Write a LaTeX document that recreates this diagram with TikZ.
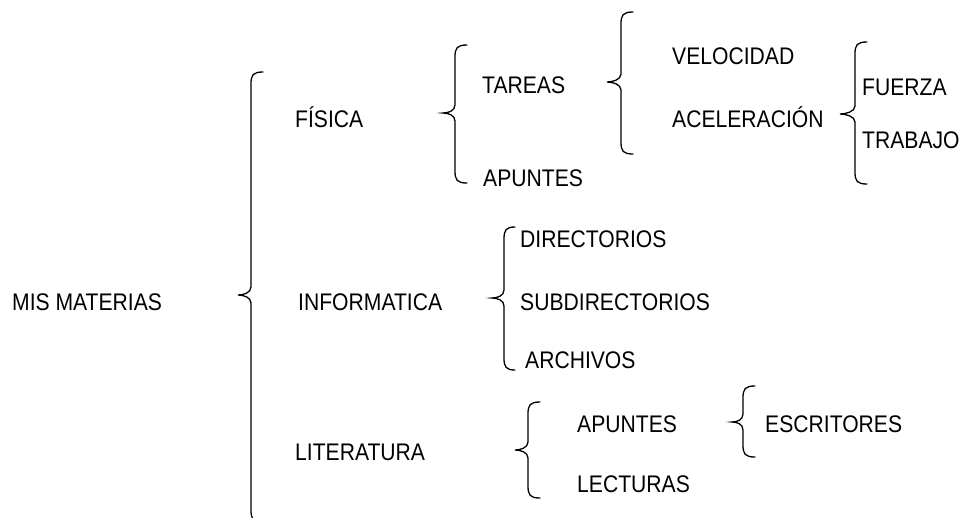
\documentclass[tikz,border=0pt]{standalone}
\usepackage{fontspec}
\setmainfont{Liberation Sans}[FakeStretch=0.88]
\newcommand\bracedraw[6]{% xe, xv, xt, yt, ym, yb
  \draw[bracestyle] (#1,#4) .. controls (#2+2,#4) and (#2,#4+3) .. (#2,#4+12)
    -- (#2,#5-8) .. controls (#2,#5-2) and (#3+5,#5) .. (#3,#5)
    .. controls (#3+5,#5) and (#2,#5+2) .. (#2,#5+8)
    -- (#2,#6-12) .. controls (#2,#6-3) and (#2+2,#6) .. (#1,#6);}
\begin{document}
\begin{tikzpicture}[x=1pt,y=-1pt,
  lbl/.style={anchor=base west,inner sep=0pt,font=\fontsize{24}{28}\selectfont},
  bracestyle/.style={line width=1.3pt,line cap=round}]
\useasboundingbox (0,0) rectangle (963,517);
% texts
\node[lbl] (mis) at (12,310) {MIS MATERIAS};
\node[lbl] (fis) at (295,127) {FÍSICA};
\node[lbl] (tar) at (482,93) {TAREAS};
\node[lbl] (apf) at (483,186) {APUNTES};
\node[lbl] (vel) at (672,64) {VELOCIDAD};
\node[lbl] (ace) at (672,127) {ACELERACIÓN};
\node[lbl] (fue) at (862,95) {FUERZA};
\node[lbl] (tra) at (862,148) {TRABAJO};
\node[lbl] (inf) at (298,310) {INFORMATICA};
\node[lbl] (dir) at (520,247) {DIRECTORIOS};
\node[lbl] (sub) at (520,310) {SUBDIRECTORIOS};
\node[lbl] (arc) at (525,368) {ARCHIVOS};
\node[lbl] (lit) at (295,460) {LITERATURA};
\node[lbl] (apl) at (577,432) {APUNTES};
\node[lbl] (lec) at (577,492) {LECTURAS};
\node[lbl] (esc) at (765,432) {ESCRITORES};
% braces
\bracedraw{263}{251}{238}{72}{295}{522}
\bracedraw{467}{455}{443}{45}{113}{183}
\bracedraw{633}{621}{607}{12}{82}{154}
\bracedraw{867}{855}{840}{42}{114}{184}
\bracedraw{515}{504}{492}{227}{298}{370}
\bracedraw{540}{528}{515}{402}{450}{498}
\bracedraw{755}{743}{732}{386}{422}{457}
\end{tikzpicture}
\end{document}
